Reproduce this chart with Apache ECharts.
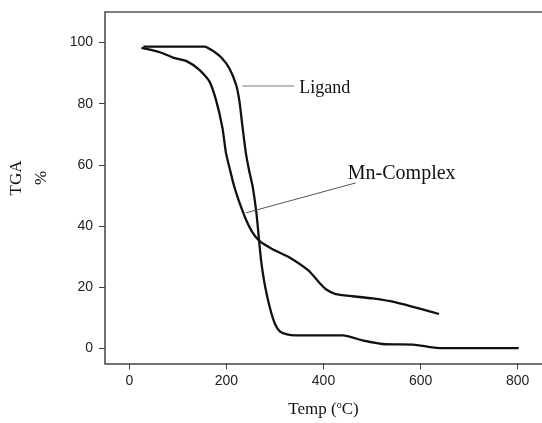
<!DOCTYPE html>
<html>
<head>
<meta charset="utf-8">
<script src="https://cdn.jsdelivr.net/npm/echarts@6/dist/echarts.min.js"></script>
<style>
  html, body { margin: 0; padding: 0; background: #fff; }
  #chart { width: 542px; height: 423px; }
</style>
</head>
<body>
<div id="chart"></div>
<script>
// values: [temperature, mass %]
const ligandData = [
  [29, 98.7], [100, 98.7], [155, 98.7], [175, 97], [190, 95], [206, 91.6],
  [220, 86.2], [227, 80.7], [232, 74], [240, 64], [247, 58], [254, 53],
  [262, 44], [268, 34], [272, 28], [280, 20], [290, 13], [300, 8],
  [310, 5.5], [325, 4.5], [343, 4.2], [440, 4.2], [480, 2.6], [528, 1.3],
  [585, 1.2], [632, 0.1], [700, 0], [802, 0]
];
const complexData = [
  [25, 98.3], [45, 97.6], [69, 96.5], [90, 95.1], [117, 94], [145, 91],
  [165, 87.3], [179, 81], [192, 72], [199, 64], [208, 58], [216, 53],
  [227, 47.6], [240, 42.2], [254, 37.8], [268, 35.1], [295, 32.4],
  [330, 29.7], [370, 25.3], [391, 21.5], [405, 19.3], [425, 17.7],
  [460, 17], [501, 16.3], [549, 15], [638, 11.2]
];
// leader lines for the two annotations
const ligandLeader = [[233, 85.8], [340, 85.8]];
const complexLeader = [[240.5, 44.3], [466.6, 54.1]];

const xTicks = [0, 200, 400, 600, 800];
const yTicks = [0, 20, 40, 60, 80, 100];

const serif = '"Liberation Serif", "Times New Roman", serif';
const sans = '"Liberation Sans", Arial, sans-serif';

const chart = echarts.init(document.getElementById('chart'));

const option = {
  animation: false,
  grid: { left: 105, right: 0, top: 12, bottom: 58 },
  xAxis: [{
    type: 'value',
    min: -50,
    max: 850,
    name: 'Temp ({sup|o}C)',
    nameLocation: 'middle',
    nameGap: 37,
    nameTextStyle: {
      fontFamily: serif, fontSize: 17, color: '#111',
      rich: { sup: { fontFamily: serif, fontSize: 10, color: '#111', verticalAlign: 'top', padding: [0, 0, 8, 0] } }
    },
    axisLine: { show: true, onZero: false, lineStyle: { color: '#444', width: 1.5 } },
    axisTick: { show: true, length: 6, lineStyle: { color: '#444' }, customValues: xTicks },
    axisLabel: { fontFamily: sans, fontSize: 14, color: '#222', margin: 11, customValues: xTicks },
    splitLine: { show: false }
  }, {
    type: 'value',
    position: 'top',
    min: -50,
    max: 850,
    axisLine: { show: true, onZero: false, lineStyle: { color: '#555', width: 1.5 } },
    axisTick: { show: false },
    axisLabel: { show: false },
    splitLine: { show: false }
  }],
  yAxis: {
    type: 'value',
    min: -5,
    max: 110,
    axisLine: { show: true, onZero: false, lineStyle: { color: '#444', width: 1.5 } },
    axisTick: { show: true, length: 6, lineStyle: { color: '#444' }, customValues: yTicks },
    axisLabel: { fontFamily: sans, fontSize: 14, color: '#222', margin: 12, customValues: yTicks },
    splitLine: { show: false }
  },
  graphic: [
    { type: 'text', x: 17, y: 178, rotation: Math.PI / 2,
      style: { text: 'TGA', fontFamily: serif, fontSize: 17, fill: '#111', align: 'center', verticalAlign: 'middle' } },
    { type: 'text', x: 42, y: 178, rotation: Math.PI / 2,
      style: { text: '%', fontFamily: serif, fontSize: 17, fill: '#111', align: 'center', verticalAlign: 'middle' } }
  ],
  series: [{
    name: 'Ligand',
    type: 'line',
    data: ligandData,
    showSymbol: false,
    smooth: 0.2,
    lineStyle: { color: '#111', width: 2.3 }
  }, {
    name: 'Mn-Complex',
    type: 'line',
    data: complexData,
    showSymbol: false,
    smooth: 0.2,
    lineStyle: { color: '#111', width: 2.3 }
  }, {
    name: 'ligand-leader',
    type: 'line',
    data: ligandLeader,
    showSymbol: false,
    lineStyle: { color: '#777', width: 1 },
    endLabel: {
      show: true, formatter: 'Ligand', distance: 5, offset: [0, 2],
      fontFamily: serif, fontSize: 18, color: '#111'
    }
  }, {
    name: 'complex-leader',
    type: 'line',
    data: complexLeader,
    showSymbol: false,
    lineStyle: { color: '#555', width: 1 },
    endLabel: {
      show: true, formatter: 'Mn-Complex', distance: 0, offset: [-8, -9],
      fontFamily: serif, fontSize: 20, color: '#111'
    }
  }]
};

chart.setOption(option);
</script>
</body>
</html>
